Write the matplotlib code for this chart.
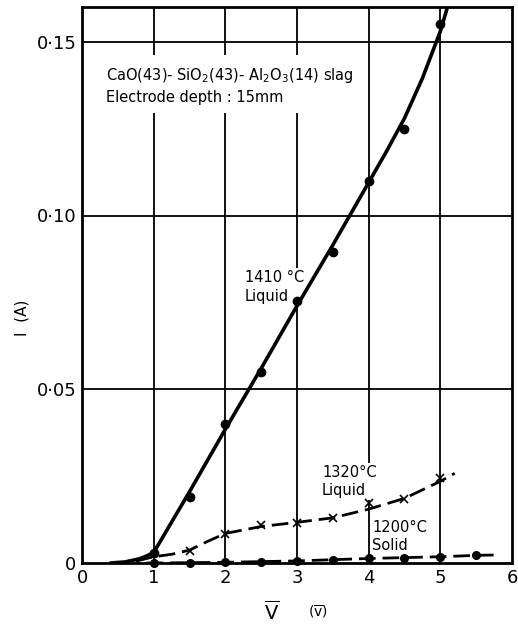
import matplotlib
matplotlib.use("Agg")
import matplotlib.pyplot as plt

# ---- data ----
# 1410 C liquid: measured points
v1410 = [1.0, 1.5, 2.0, 2.5, 3.0, 3.5, 4.0, 4.5, 5.0]
i1410 = [0.003, 0.019, 0.040, 0.055, 0.0755, 0.0895, 0.110, 0.125, 0.155]
# hand-drawn curve through them
cv1410 = [0.4, 0.6, 0.8, 0.9, 1.0, 1.5, 2.0, 2.5, 3.0, 3.5, 4.0, 4.25, 4.5, 4.75, 5.0, 5.1]
ci1410 = [0.0, 0.0003, 0.0012, 0.002, 0.003, 0.0205, 0.0385, 0.056, 0.0740, 0.0915, 0.1095, 0.1185, 0.128, 0.1395, 0.1530, 0.160]

# 1320 C liquid
v1320 = [1.5, 2.0, 2.5, 3.0, 3.5, 4.0, 4.5, 5.0]
i1320 = [0.0035, 0.0083, 0.0108, 0.0115, 0.013, 0.0172, 0.0184, 0.0245]
cv1320 = [0.75, 1.0, 1.25, 1.5, 1.75, 2.0, 2.5, 3.0, 3.5, 4.0, 4.5, 5.0, 5.2]
ci1320 = [0.0005, 0.0018, 0.0025, 0.0037, 0.0062, 0.0085, 0.0105, 0.0117, 0.013, 0.0155, 0.0186, 0.0235, 0.0258]

# 1200 C solid
v1200 = [1.0, 1.5, 2.0, 2.5, 3.0, 3.5, 4.0, 4.5, 5.0, 5.5]
i1200 = [0.0, 0.0, 0.0002, 0.0004, 0.0006, 0.0009, 0.0013, 0.0015, 0.0018, 0.0022]
cv1200 = [0.9, 1.0, 2.0, 3.0, 4.0, 5.0, 5.5, 5.75]
ci1200 = [0.0, 0.0, 0.0002, 0.0006, 0.0013, 0.0018, 0.0022, 0.0023]

xticks = [0, 1, 2, 3, 4, 5, 6]
xticklabels = ["0", "1", "2", "3", "4", "5", "6"]
yticks = [0, 0.05, 0.10, 0.15]
yticklabels = ["0", "0·05", "0·10", "0·15"]

fig = plt.figure(figsize=(5.18, 6.28), dpi=100)
ax = fig.add_axes([82/518, 65/628, 430/518, 556/628])
ax.set_xlim(0, 6)
ax.set_ylim(0, 0.16)

for x in xticks[1:-1]:
    ax.axvline(x, color="black", lw=1.3, zorder=1)
for y in yticks[1:]:
    ax.axhline(y, color="black", lw=1.3, zorder=1)

ax.plot(cv1410, ci1410, color="black", lw=2.6, solid_capstyle="round", zorder=3)
ax.plot(v1410, i1410, "o", color="black", ms=6, zorder=4)

ax.plot(cv1320, ci1320, color="black", lw=2.0, dashes=(6, 2.5), zorder=3)
ax.plot(v1320, i1320, "x", color="black", ms=6, mew=1.2, zorder=4)

ax.plot(cv1200, ci1200, color="black", lw=2.0, dashes=(6, 2.5), zorder=3)
ax.plot(v1200, i1200, "o", color="black", ms=5.5, zorder=4, clip_on=False)

for s in ax.spines.values():
    s.set_linewidth(2.0)
ax.set_xticks(xticks)
ax.set_xticklabels(xticklabels)
ax.set_yticks(yticks)
ax.set_yticklabels(yticklabels)
ax.tick_params(length=0, labelsize=13, pad=4)

bb = dict(facecolor="white", edgecolor="none", pad=1.5)
ax.text(0.33, 0.1375, "CaO(43)- SiO$_2$(43)- Al$_2$O$_3$(14) slag\nElectrode depth : 15mm",
        fontsize=10.5, ha="left", va="center", linespacing=1.4, bbox=dict(facecolor="white", edgecolor="none", pad=6), zorder=2)
ax.text(2.27, 0.0795, "1410 °C\nLiquid", fontsize=10.5, ha="left", va="center", linespacing=1.3, bbox=bb, zorder=2)
ax.text(3.35, 0.0235, "1320°C\nLiquid", fontsize=10.5, ha="left", va="center", linespacing=1.25, bbox=bb, zorder=2)
ax.text(4.05, 0.0075, "1200°C\nSolid", fontsize=10.5, ha="left", va="center", linespacing=1.25, bbox=bb, zorder=2)

fig.text(272/518, 1 - 612/628, r"$\overline{\mathrm{V}}$", fontsize=14, ha="center", va="center")
fig.text(318/518, 1 - 612/628, r"($\overline{\mathrm{v}}$)", fontsize=10, ha="center", va="center")
fig.text(22/518, 1 - 318/628, "I  (A)", fontsize=11, rotation=90, ha="center", va="center")

fig.savefig("out.png", dpi=100)
